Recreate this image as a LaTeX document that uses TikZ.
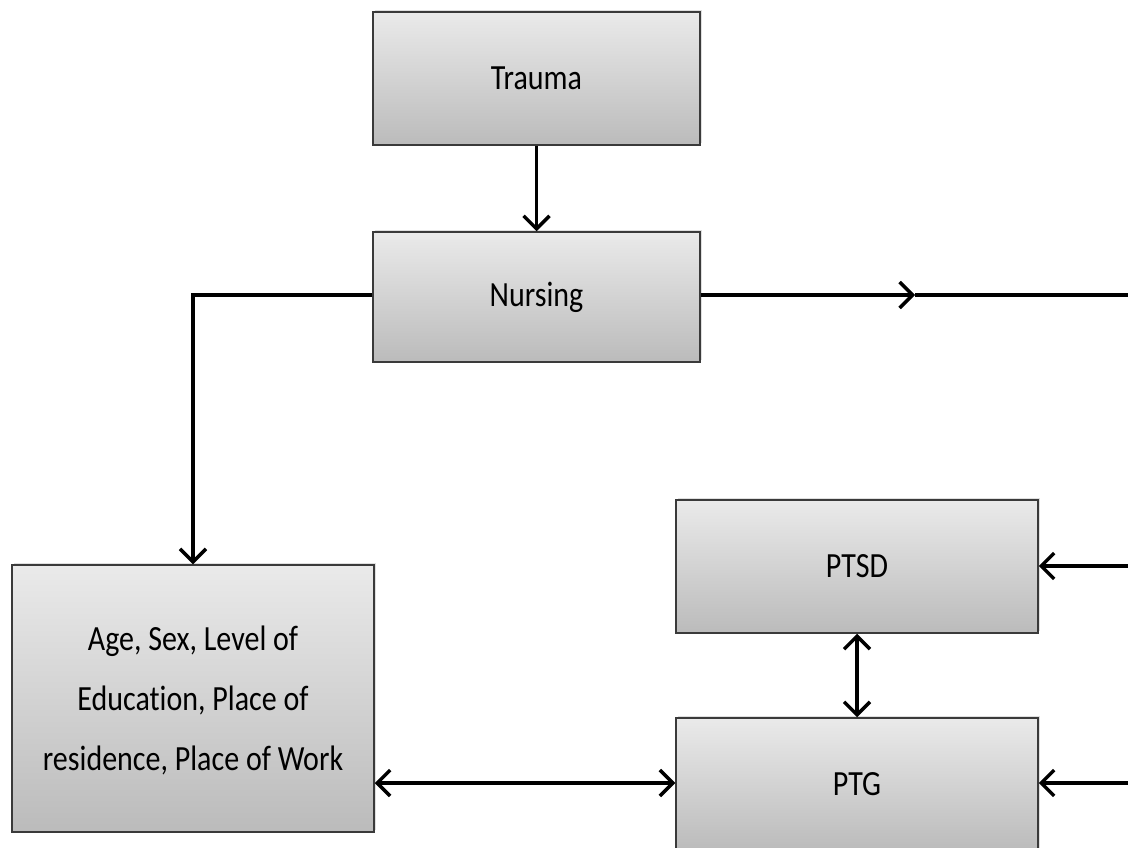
\documentclass[tikz,border=0pt]{standalone}
\usepackage{fontspec}
\setmainfont{Carlito}[RawFeature=-liga]
\usepackage{graphicx}
\usetikzlibrary{arrows.meta,shadows}
\definecolor{boxtop}{HTML}{EAEAEA}
\definecolor{boxbot}{HTML}{BBBBBB}
\definecolor{boxline}{HTML}{3A3A3A}
\newcommand{\tallt}[1]{\scalebox{1}[1.18]{#1}}
\tikzset{
  box/.style={rectangle, draw=boxline, line width=1.5pt, top color=boxtop, bottom color=boxbot,
    drop shadow={opacity=0.25, shadow xshift=2pt, shadow yshift=2pt},
    inner sep=0pt, align=center, font=\fontsize{30}{60}\selectfont, text=black},
  conn/.style={line width=3.6pt, black},
  arr/.style={conn, -{Straight Barb[length=13pt,width=26pt,line width=3.4pt]}},
  darr/.style={conn, {Straight Barb[length=13pt,width=26pt,line width=3.4pt]}-{Straight Barb[length=13pt,width=26pt,line width=3.4pt]}}
}
\begin{document}
\begin{tikzpicture}[x=1pt,y=-1pt]
\useasboundingbox (0,0) rectangle (1128,848);
\node[box, minimum width=327pt, minimum height=133pt] (trauma) at (536.5,78.5) {\raisebox{-5pt}{\tallt{Trauma}}};
\node[box, minimum width=327pt, minimum height=130pt] (nursing) at (536.5,297) {\raisebox{-5pt}{\tallt{Nursing}}};
\node[box, minimum width=362pt, minimum height=267pt] (age) at (193,698.5) {\raisebox{-6pt}{\begin{tabular}{@{}c@{}}\tallt{Age, Sex, Level of}\\\tallt{Education, Place of}\\\tallt{residence, Place of Work}\end{tabular}}};
\node[box, minimum width=362pt, minimum height=133pt] (ptsd) at (857,566.5) {\raisebox{-3pt}{\tallt{PTSD}}};
\node[box, minimum width=362pt, minimum height=133pt] (ptg) at (857,784.5) {\raisebox{-3pt}{\tallt{PTG}}};
\coordinate (rmid) at (915,295);
\coordinate (rend) at (1130,295);
\coordinate (rptsd) at (1130,566);
\coordinate (rptg) at (1130,783);
\draw[arr] (trauma.south) -- (nursing.north);
\draw[arr] (nursing.west |- rmid) -| (age.north);
\draw[arr] (nursing.east |- rmid) -- (rmid);
\draw[conn] (rmid) -- (rend);
\draw[arr] (rptsd) -- (ptsd.east |- rptsd);
\draw[arr] (rptg) -- (ptg.east |- rptg);
\draw[darr] (ptsd.south) -- (ptg.north);
\draw[darr] (age.east |- rptg) -- (ptg.west |- rptg);
\end{tikzpicture}
\end{document}
